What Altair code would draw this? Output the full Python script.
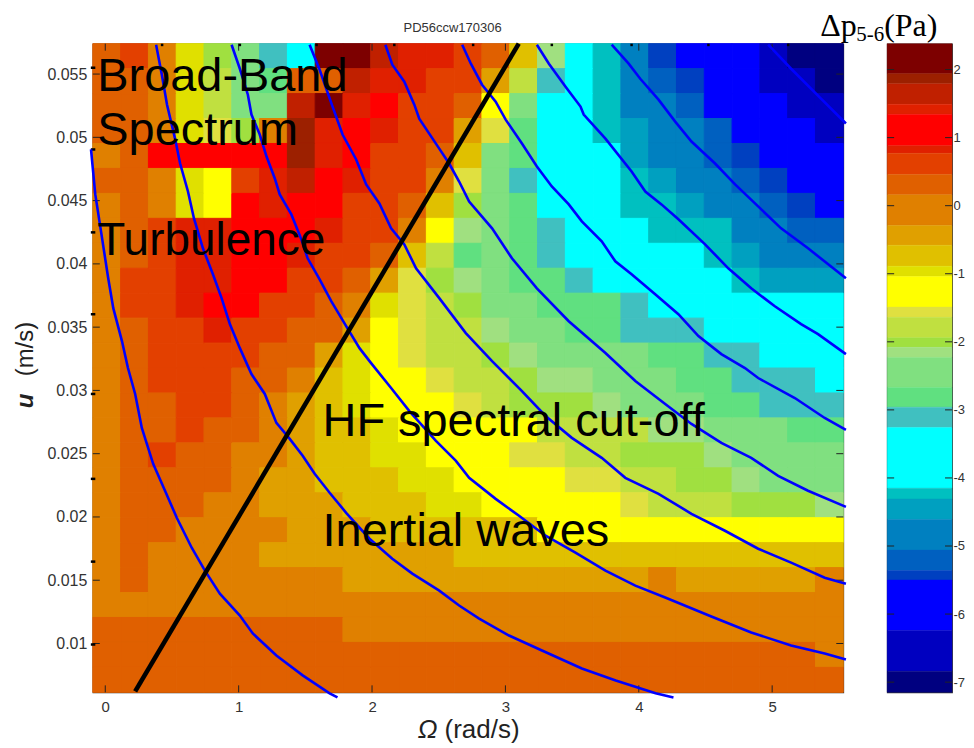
import altair as alt
import pandas as pd

# ---- grid of pressure-difference classes, top row first (one letter per cell)
rows = [
    "GFHKOQSTAACDDFGJPTUWYZZZabb",
    "GGHKNQRGGCDDFFINSTUWXYZZaab",
    "GGHKNQQCADEFFGLQTTUWWXZZZaa",
    "GGHKMOHBDEDFFIMRTTUVWWXZZZa",
    "HGEEEEEBDEFFGJQRTTTVWWXYZZZ",
    "GGHKLFDCEDFFHMQSTTTUVWWXYZZ",
    "HGHKLEDEEFFGJOQRTTTUUVWWXYZ",
    "HGFDDEEEDFFHLPQRSTTTUUUWWXX",
    "HGFDDEEDFFGJNRQRSTTTTTUVWWW",
    "HFFDDEEFFGIMOPQRRSTTTTTUVVV",
    "HFFDEEFFGHKMNOQQRRRSTTTTTTT",
    "HGFFDFFGGILMNNPQQRRSSSTTTTT",
    "HGFFFFGGIKLMNNOPQQQQRRSSTTT",
    "HGFFFGGHJKLLMNNOPPQQQRRSSST",
    "HGGFFGHIJKLLLMNOOOPQQQRRSSS",
    "HGGFGGHIJJKLLLLLNNNNPPQQQRR",
    "HGFGGHHIJJKKLLLMMNNOOOPQQQQ",
    "HGGGGHIIJJJKKLLLLMMNNOOPQQQ",
    "HGGGHHIIIJJJKKLLLLLMNNNOOOP",
    "HGGHHHHIIIJJJJJJLLLLLLLLLLL",
    "HGHHHHIIIIIIIJJJJJJJJJJJJJJ",
    "HGHHHHHHHIIIIIIIIIIIHIIIIIH",
    "HHHHHHHHHHHHHHHHHHHHHHHHHHH",
    "GGGGGGGGGHHHHHHHHHHHHHHHHHH",
    "GGGGGGGGGGGGGGGGGGGGGGGGGGH",
    "GGGGGGGGGGGGGGGGGGGGGGGGGGG",
]
codes = list("ABCDEFGHIJKLMNOPQRSTUVWXYZab")
colors = ["#7d0000", "#9c2000", "#c02000", "#e02000", "#ff0000", "#e34000", "#e06000",
          "#e08000", "#e0a000", "#e0c000", "#e0e000", "#ffff00", "#e0e040", "#c0e040",
          "#a0e040", "#a0e080", "#80e080", "#60e080", "#40c0c0", "#00ffff", "#00c0c0",
          "#00a0c0", "#0080c0", "#0060c0", "#0040c0", "#0000ff", "#0000c0", "#000080"]

# ---- colour bar bands, top to bottom
bar_codes = list("ABCDEDFGHIJKLMNOPQRSTUVWXYZab")
bar_edges = [2.38, 1.94, 1.79, 1.49, 1.34, 0.88, 0.77, 0.46, 0.16, -0.29, -0.58, -0.89,
             -1.04, -1.49, -1.64, -1.94, -2.08, -2.23, -2.67, -2.96, -3.26, -4.15, -4.31,
             -4.61, -5.06, -5.36, -5.50, -6.24, -6.84, -7.15]

# ---- axes
omega_min, omega_max = -0.0934, 5.533
u_min, u_max = 0.00614, 0.0574
omega_ticks = [0, 1, 2, 3, 4, 5]
u_ticks = [0.01, 0.015, 0.02, 0.025, 0.03, 0.035, 0.04, 0.045, 0.05, 0.055]
bar_ticks = [2, 1, 0, -1, -2, -3, -4, -5, -6, -7]
extra_top = [.426, 1.009, 1.584, 2.167, 2.758, 3.348, 3.946, 4.522, 5.120]
extra_left = [.0555, .04904, .04249, .03602, .02972, .02301, .01647, .00992]

# ---- contour lines (Omega, u)
c1_om = [-.107, -.075, -.032, .022, .060, .125, .170, .224, .274, .359, .448, .536, .648, .747, .859, 1.009, 1.106, 1.283, 1.480, 1.682, 1.741]
c1_u = [.04904, .04549, .04257, .03886, .0365, .0339, .03177, .02972, .02703, .0242, .02207, .01994, .01757, .01576, .01394, .01221, .01079, .00905, .00748, .00606, .00574]
c2_om = [.381, .424, .463, .523, .561, .620, .665, .732, .807, .872, .934, 1.009, 1.096, 1.196, 1.283, 1.383, 1.480, 1.570, 1.682, 1.806, 1.981, 2.152, 2.302, 2.504, 2.653, 2.803, 3.027, 3.274, 3.573, 3.827, 4.126, 4.260]
c2_u = [.05732, .05495, .05258, .0499, .04793, .04572, .04359, .04123, .03918, .03729, .03524, .03334, .03129, .02972, .02743, .02617, .02483, .02341, .02191, .02033, .01828, .0167, .01552, .01418, .013, .01197, .01063, .00945, .00803, .00708, .00606, .00574]
c3_om = [.947, 1.009, 1.069, 1.096, 1.158, 1.209, 1.271, 1.308, 1.395, 1.470, 1.517, 1.607, 1.694, 1.806, 1.906, 1.993, 2.143, 2.280, 2.479, 2.629, 2.728, 2.927, 3.102, 3.301, 3.525, 3.750, 3.974, 4.198, 4.544, 4.843, 5.142, 5.394, 5.553]
c3_u = [.05732, .05542, .05337, .0518, .05022, .04848, .04675, .04549, .04391, .04194, .04044, .03878, .03705, .03508, .03334, .03216, .03019, .02837, .02601, .02443, .02309, .02143, .02009, .01852, .01718, .01576, .01457, .01363, .01213, .01087, .00984, .00921, .00874]
c4_om = [1.532, 1.607, 1.704, 1.779, 1.881, 1.956, 2.055, 2.143, 2.242, 2.330, 2.504, 2.703, 2.900, 3.124, 3.301, 3.498, 3.722, 3.899, 4.148, 4.395, 4.646, 4.895, 5.142, 5.394, 5.553]
c4_u = [.05732, .05534, .05243, .05022, .04825, .04628, .04478, .04281, .04154, .03965, .03729, .03453, .03232, .02995, .02798, .02625, .02467, .02309, .02183, .02025, .01891, .01749, .01639, .0152, .01473]
c5_om = [2.100, 2.152, 2.242, 2.317, 2.354, 2.504, 2.578, 2.653, 2.728, 2.900, 3.049, 3.236, 3.475, 3.750, 3.974, 4.198, 4.395, 4.619, 4.843, 5.045, 5.269, 5.553]
c5_u = [.05732, .05574, .0544, .05258, .05148, .04911, .04793, .04651, .04493, .04281, .04044, .03807, .03547, .03295, .03074, .02893, .02735, .02585, .02467, .02325, .02207, .0208]
c6_om = [2.676, 2.741, 2.825, 2.927, 3.002, 3.124, 3.236, 3.348, 3.475, 3.573, 3.722, 3.824, 3.946, 4.123, 4.297, 4.447, 4.619, 4.796, 4.895, 5.170, 5.394, 5.553]
c6_u = [.05732, .05582, .05416, .05282, .0514, .04951, .0477, .04612, .0447, .04336, .04178, .0402, .03918, .0376, .03602, .03429, .03287, .03177, .03098, .0294, .02782, .02688]
c7_om = [3.236, 3.326, 3.451, 3.563, 3.587, 3.750, 3.946, 4.049, 4.170, 4.297, 4.497, 4.671, 4.843, 5.020, 5.217, 5.344, 5.553]
c7_u = [.05732, .05582, .054, .05243, .0518, .0499, .0473, .04572, .0447, .04352, .04154, .03965, .03807, .03665, .03524, .03445, .03287]
c8_om = [3.797, 3.924, 4.011, 4.148, 4.273, 4.395, 4.572, 4.722, 4.895, 5.067, 5.269, 5.553]
c8_u = [.05732, .05582, .05463, .05298, .05124, .04967, .04793, .04628, .04454, .04281, .04123, .03886]
c9_om = [4.970, 5.142, 5.366, 5.553]
c9_u = [.05732, .05542, .05306, .05109]

diag_om = [0.224, 3.10]
diag_u = [0.00621, 0.0574]

notes = ["Broad-Band", "Spectrum", "Turbulence", "HF spectral cut-off", "Inertial waves"]
notes_om = [-0.06, -0.06, -0.06, 1.629, 1.629]
notes_u = [.05369, .04943, .04068, .0264, .01773]
notes_size = [47, 47, 46, 47, 47]

PW, PH = 752, 650
SANS = "Liberation Sans"
SERIF = "Liberation Serif"

xs = alt.Scale(domain=[omega_min, omega_max], nice=False, zero=False)
ys = alt.Scale(domain=[u_min, u_max], nice=False, zero=False)
cs = alt.Scale(domain=codes, range=colors)

x_axis = alt.Axis(values=omega_ticks, ticks=False, domain=False, grid=False, format="d",
                  labelFont=SANS, labelFontSize=15, labelColor="#333333", labelPadding=7)
y_axis = alt.Axis(values=u_ticks, ticks=False, domain=False, grid=False, format="~g",
                  labelFont=SANS, labelFontSize=16, labelColor="#333333", labelPadding=6)


def X(f):
    return alt.X(f"{f}:Q", scale=xs, axis=x_axis, title=None)


def Y(f):
    return alt.Y(f"{f}:Q", scale=ys, axis=y_axis, title=None)


# cells
dx = (omega_max - omega_min) / len(rows[0])
dy = (u_max - u_min) / len(rows)
cell_df = pd.DataFrame([
    {"x1": omega_min + j * dx, "x2": omega_min + (j + 1) * dx,
     "y1": u_max - i * dy, "y2": u_max - (i + 1) * dy, "c": ch}
    for i, r in enumerate(rows) for j, ch in enumerate(r)
])
cells = alt.Chart(cell_df).mark_rect(strokeWidth=1).encode(
    x=X("x1"), x2="x2:Q", y=Y("y1"), y2="y2:Q",
    color=alt.Color("c:N", scale=cs, legend=None),
    stroke=alt.Stroke("c:N", scale=cs, legend=None),
)

# inward ticks
tlen_x, tlen_y = 7 / 133.8, 7 * 7.886e-5
tick_rows = []
for v in omega_ticks:
    tick_rows += [dict(x1=v, x2=v, y1=u_min, y2=u_min + tlen_y), dict(x1=v, x2=v, y1=u_max, y2=u_max - tlen_y)]
for v in u_ticks:
    tick_rows += [dict(x1=omega_min, x2=omega_min + tlen_x, y1=v, y2=v), dict(x1=omega_max, x2=omega_max - tlen_x, y1=v, y2=v)]
ticks = alt.Chart(pd.DataFrame(tick_rows)).mark_rule(color="#222222", strokeWidth=1).encode(
    x=X("x1"), x2="x2:Q", y=Y("y1"), y2="y2:Q")

extra_rows = [dict(x1=v, x2=v, y1=u_max, y2=u_max - 2.5 * 7.886e-5) for v in extra_top]
extra_rows += [dict(x1=omega_min - 2 / 133.8, x2=omega_min + 2.5 / 133.8, y1=v, y2=v) for v in extra_left]
extra = alt.Chart(pd.DataFrame(extra_rows)).mark_rule(color="#000000", strokeWidth=2.5).encode(
    x=X("x1"), x2="x2:Q", y=Y("y1"), y2="y2:Q")

# contours
curves = [(c1_om, c1_u), (c2_om, c2_u), (c3_om, c3_u), (c4_om, c4_u), (c5_om, c5_u),
          (c6_om, c6_u), (c7_om, c7_u), (c8_om, c8_u), (c9_om, c9_u)]
curve_df = pd.DataFrame([
    {"om": o, "u": u, "k": k, "n": n}
    for k, (os_, us_) in enumerate(curves) for n, (o, u) in enumerate(zip(os_, us_))
])
lines = alt.Chart(curve_df).mark_line(color="#0000ff", strokeWidth=2.6).encode(
    x=X("om"), y=Y("u"), detail="k:N", order="n:Q")

diag = alt.Chart(pd.DataFrame({"om": diag_om, "u": diag_u})).mark_line(
    color="#000000", strokeWidth=4.6).encode(x=X("om"), y=Y("u"))

# annotations
note_df = pd.DataFrame({"t": notes, "om": notes_om, "u": notes_u, "s": notes_size})
note_layers = [
    alt.Chart(note_df[note_df.s == s]).mark_text(
        font=SANS, fontSize=s, color="#000000", align="left", baseline="alphabetic"
    ).encode(x=X("om"), y=Y("u"), text="t:N")
    for s in sorted(set(notes_size))
]


def label(txt, x, y, **kw):
    return alt.Chart(pd.DataFrame({"a": [0]})).mark_text(text=txt, baseline="alphabetic", **kw).encode(
        x=alt.value(x), y=alt.value(y))


main = alt.layer(
    cells, ticks, extra, lines, diag, *note_layers,
    label("PD56ccw170306", 360.5, -12, font=SANS, fontSize=13, color="#333333", align="center"),
    label("Ω", 325.5, 696, font=SANS, fontSize=26, fontStyle="italic", color="#222222", align="left"),
    label("(rad/s)", 352.5, 696, font=SANS, fontSize=26, color="#222222", align="left"),
    label("(m/s)", -59.5, 306, font=SANS, fontSize=24, color="#222222", align="center", angle=270),
    label("u", -59.5, 358, font=SANS, fontSize=24, fontStyle="italic", fontWeight="bold", color="#222222", align="center", angle=270),
).properties(width=PW, height=PH)

# colour bar
bar_df = pd.DataFrame({"c": bar_codes, "y1": bar_edges[:-1], "y2": bar_edges[1:]})
bs = alt.Scale(domain=[bar_edges[-1], bar_edges[0]], nice=False, zero=False)
bar_axis = alt.Axis(values=bar_ticks, orient="right", ticks=False, domain=False, grid=False,
                    labelExpr="'' + datum.value", labelFont=SANS, labelFontSize=13,
                    labelColor="#333333", labelPadding=1)
bands = alt.Chart(bar_df).mark_rect(strokeWidth=0.4).encode(
    x=alt.value(0), x2=alt.value(65),
    y=alt.Y("y1:Q", scale=bs, axis=bar_axis, title=None), y2="y2:Q",
    color=alt.Color("c:N", scale=cs, legend=None),
    stroke=alt.Stroke("c:N", scale=cs, legend=None),
)
bt_df = pd.DataFrame({"v": bar_ticks})
bar_t1 = alt.Chart(bt_df).mark_rule(color="#222222", strokeWidth=1).encode(
    x=alt.value(0), x2=alt.value(7), y=alt.Y("v:Q", scale=bs, axis=bar_axis, title=None))
bar_t2 = alt.Chart(bt_df).mark_rule(color="#222222", strokeWidth=1).encode(
    x=alt.value(58), x2=alt.value(65), y=alt.Y("v:Q", scale=bs, axis=bar_axis, title=None))
bar = alt.layer(
    bands, bar_t1, bar_t2,
    label("Δp", -67, -8, font=SERIF, fontSize=32, color="#000000", align="left"),
    label("5-6", -31, -3, font=SERIF, fontSize=21, color="#000000", align="left"),
    label("(Pa)", -3, -8, font=SERIF, fontSize=32, color="#000000", align="left"),
).properties(width=65, height=PH)

chart = alt.hconcat(main, bar, spacing=44, bounds="flush").properties(
    padding={"left": 5, "top": 0, "right": 0, "bottom": 0}
).configure_view(stroke="#333333", strokeWidth=1.2)

chart.save("out.html", embed_options={"renderer": "svg", "actions": False})
